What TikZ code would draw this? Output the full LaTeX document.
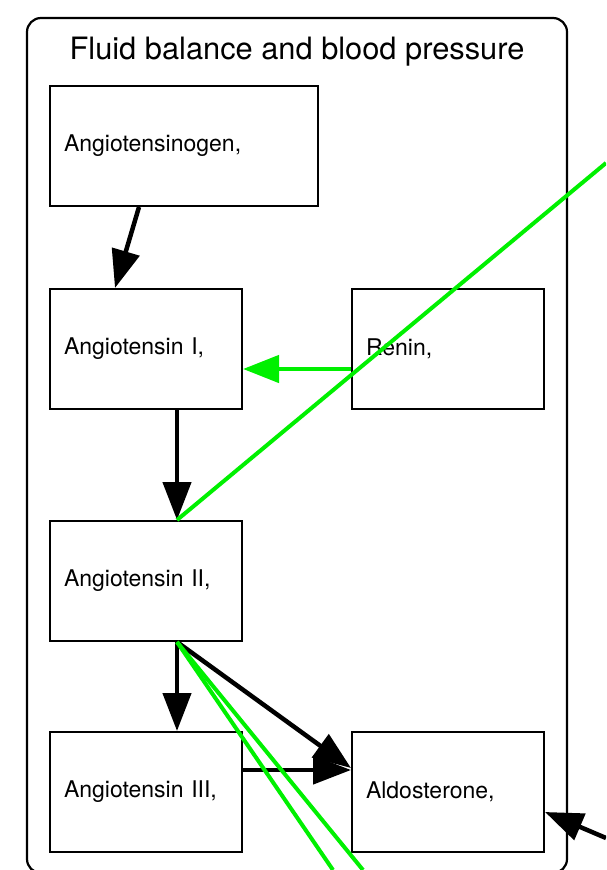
\documentclass[tikz,border=0pt]{standalone}
\usepackage{fontspec}
\setmainfont{TeX Gyre Heros}
\usetikzlibrary{arrows.meta,calc}
\definecolor{grn}{RGB}{0,240,0}
\tikzset{
  box/.style={draw=black, line width=2pt, minimum height=120pt, inner xsep=14pt, inner ysep=0pt, align=left, anchor=north west, font=\fontsize{23}{28}\selectfont},
  narrow/.style={box, text width=164pt},
  wide/.style={box, text width=240pt},
  blk/.style={draw=black, line width=4.5pt, -{Triangle[length=38pt,width=28pt]}},
  grnarrow/.style={draw=grn, line width=4.5pt, -{Triangle[length=36pt,width=27pt]}},
  grnline/.style={draw=grn, line width=4pt},
}
\begin{document}
\begin{tikzpicture}[x=1pt,y=-1pt]
\path[use as bounding box] (0,0) rectangle (606,870);
\clip (0,0) rectangle (606,870);
\draw[line width=2.2pt, rounded corners=14pt] (27,18) rectangle (567,873);
\node[font=\fontsize{30.8}{36}\selectfont] (title) at (297,52) {Fluid balance and blood pressure};
\node[wide] (gen) at (49,85) {Angiotensinogen,};
\node[narrow] (a1) at (49,288) {Angiotensin I,};
\node[narrow] (ren) at (351,288) {Renin,};
\node[narrow] (a2) at (49,520) {Angiotensin II,};
\node[narrow] (a3) at (49,731) {Angiotensin III,};
\node[narrow] (ald) at (351,731) {Aldosterone,};
\coordinate (rin) at (606,838);
\coordinate (gtop) at (606,163);
\coordinate (gb1) at (333,870);
\coordinate (gb2) at (363,870);
% black arrows
\draw[blk] ([xshift=90pt]gen.south west) -- ([xshift=66pt]a1.north west);
\draw[blk] ([xshift=128pt]a1.south west) -- ([xshift=128pt]a2.north west);
\draw[blk] ([xshift=128pt]a2.south west) -- ([xshift=128pt]a3.north west);
\draw[blk] ([xshift=128pt]a2.south west) -- ([yshift=-37pt]ald.north west);
\draw[blk] ([yshift=-39pt]a3.north east) -- ([yshift=-39pt]ald.north west);
\draw[blk] (rin) -- ([yshift=-81pt]ald.north east);
% green
\draw[grnarrow] ([yshift=-81pt]ren.north west) -- ([yshift=-81pt]a1.north east);
\draw[grnline] ([xshift=128pt]a2.north west) -- (gtop);
\draw[grnline] ([xshift=128pt]a2.south west) -- (gb1);
\draw[grnline] ([xshift=128pt]a2.south west) -- (gb2);
\end{tikzpicture}
\end{document}
